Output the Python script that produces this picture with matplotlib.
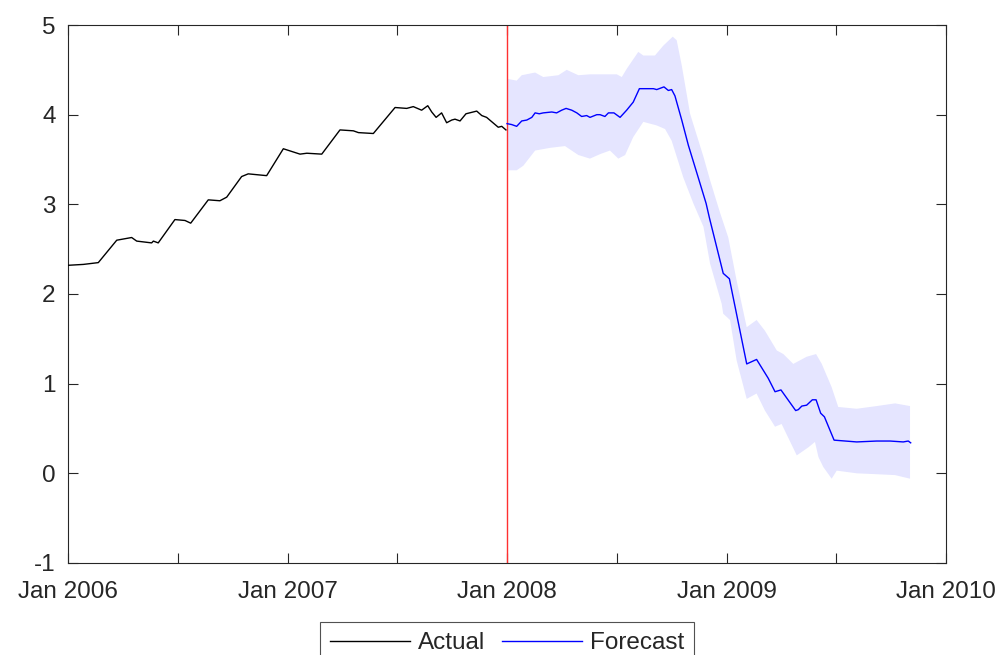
import numpy as np
import matplotlib
matplotlib.use('Agg')
import matplotlib.pyplot as plt

# x values are in years since Jan 2006
actual_t = [0.000, 0.070, 0.138, 0.222, 0.290, 0.313, 0.381, 0.389, 0.411, 0.487,
            0.533, 0.559, 0.639, 0.692, 0.723, 0.791, 0.821, 0.905, 0.981, 1.057,
            1.088, 1.156, 1.239, 1.300, 1.323, 1.391, 1.490, 1.543, 1.573, 1.611,
            1.639, 1.657, 1.677, 1.702, 1.725, 1.748, 1.763, 1.786, 1.813, 1.862,
            1.885, 1.907, 1.960, 1.976, 1.995]
actual_v = [2.32, 2.33, 2.35, 2.60, 2.63, 2.59, 2.57, 2.59, 2.57, 2.83,
            2.82, 2.79, 3.05, 3.04, 3.08, 3.31, 3.34, 3.32, 3.62, 3.56,
            3.57, 3.56, 3.83, 3.82, 3.80, 3.79, 4.08, 4.07, 4.09, 4.05,
            4.10, 4.03, 3.97, 4.02, 3.91, 3.94, 3.95, 3.93, 4.01, 4.04,
            3.99, 3.97, 3.86, 3.87, 3.83]

fc_t = [2.000, 2.021, 2.044, 2.067, 2.090, 2.113, 2.128, 2.147, 2.165, 2.204,
        2.226, 2.249, 2.269, 2.295, 2.318, 2.340, 2.363, 2.378, 2.409, 2.424,
        2.446, 2.462, 2.487, 2.515, 2.545, 2.575, 2.603, 2.667, 2.682, 2.715,
        2.735, 2.750, 2.765, 2.796, 2.826, 2.871, 2.907, 2.922, 2.985, 3.013,
        3.092, 3.137, 3.190, 3.221, 3.248, 3.315, 3.327, 3.343, 3.365, 3.391,
        3.408, 3.429, 3.446, 3.490, 3.593, 3.684, 3.745, 3.805, 3.828, 3.839]
fc_v = [3.90, 3.89, 3.87, 3.93, 3.94, 3.97, 4.02, 4.01, 4.02, 4.03,
        4.02, 4.05, 4.07, 4.05, 4.02, 3.98, 3.99, 3.97, 4.00, 4.00,
        3.98, 4.02, 4.02, 3.97, 4.05, 4.14, 4.29, 4.29, 4.28, 4.31,
        4.27, 4.28, 4.21, 3.94, 3.66, 3.30, 3.01, 2.85, 2.23, 2.17,
        1.22, 1.27, 1.06, 0.91, 0.93, 0.70, 0.71, 0.75, 0.76, 0.82,
        0.82, 0.67, 0.63, 0.37, 0.35, 0.36, 0.36, 0.35, 0.36, 0.34]

upper_t = [2.001, 2.044, 2.067, 2.128, 2.165, 2.234, 2.272, 2.325, 2.378, 2.446,
           2.500, 2.523, 2.545, 2.598, 2.621, 2.674, 2.712, 2.755, 2.773, 2.796,
           2.834, 2.895, 2.925, 2.970, 3.008, 3.046, 3.092, 3.137, 3.175, 3.229,
           3.259, 3.304, 3.365, 3.408, 3.434, 3.479, 3.509, 3.593, 3.684, 3.768,
           3.836]
upper_v = [4.40, 4.38, 4.44, 4.47, 4.42, 4.44, 4.50, 4.44, 4.45, 4.45,
           4.45, 4.42, 4.51, 4.70, 4.66, 4.66, 4.77, 4.87, 4.83, 4.55,
           4.01, 3.53, 3.27, 2.91, 2.63, 2.15, 1.63, 1.71, 1.59, 1.37,
           1.33, 1.22, 1.30, 1.33, 1.22, 0.96, 0.74, 0.72, 0.75, 0.78,
           0.75]

lower_t = [2.001, 2.044, 2.074, 2.128, 2.196, 2.264, 2.325, 2.378, 2.424, 2.469,
           2.507, 2.538, 2.575, 2.621, 2.682, 2.720, 2.750, 2.803, 2.849, 2.895,
           2.925, 2.978, 2.985, 3.016, 3.046, 3.092, 3.137, 3.175, 3.221, 3.251,
           3.320, 3.373, 3.403, 3.419, 3.441, 3.479, 3.502, 3.593, 3.684, 3.768,
           3.836]
lower_v = [3.38, 3.38, 3.43, 3.60, 3.63, 3.65, 3.55, 3.51, 3.56, 3.60,
           3.51, 3.55, 3.75, 3.92, 3.88, 3.84, 3.71, 3.30, 3.01, 2.75,
           2.34, 1.89, 1.78, 1.71, 1.26, 0.83, 0.89, 0.70, 0.52, 0.55,
           0.20, 0.29, 0.35, 0.18, 0.07, -0.06, 0.03, 0.00, -0.01, -0.02,
           -0.06]

start_year = 2006
split_year = 2008
x_ticks = [2006, 2006.5, 2007, 2007.5, 2008, 2008.5, 2009, 2009.5, 2010]
x_labels = ['Jan 2006', '', 'Jan 2007', '', 'Jan 2008', '', 'Jan 2009', '', 'Jan 2010']
y_ticks = [-1, 0, 1, 2, 3, 4, 5]

plt.rcParams['font.family'] = ['Liberation Sans', 'DejaVu Sans']
plt.rcParams['axes.unicode_minus'] = False

fig = plt.figure(figsize=(10.03, 6.55), dpi=100)
ax = fig.add_axes([0.0678, 0.1405, 0.8754, 0.8213])

# confidence band
band_x = np.concatenate([start_year + np.array(upper_t), start_year + np.array(lower_t)[::-1]])
band_y = np.concatenate([upper_v, lower_v[::-1]])
ax.fill(band_x, band_y, color='#e5e5ff', lw=0, zorder=1)

ax.plot(start_year + np.array(actual_t), actual_v, color='black', lw=1.0, label='Actual', zorder=3)
ax.plot(start_year + np.array(fc_t), fc_v, color='blue', lw=1.0, label='Forecast', zorder=3)
ax.axvline(split_year, color='#ff3030', lw=1.0, zorder=2)

ax.set_xlim(2006, 2010)
ax.set_ylim(-1, 5)
ax.set_xticks(x_ticks)
ax.set_xticklabels(x_labels)
ax.set_yticks(y_ticks)
ax.set_yticklabels([str(v) for v in y_ticks])

for s in ax.spines.values():
    s.set_color('#262626')
    s.set_linewidth(0.8)
ax.tick_params(direction='in', length=7, width=0.8, color='#262626',
               top=True, right=True, labelsize=17.5, labelcolor='#262626')
ax.tick_params(axis='x', pad=13)
ax.tick_params(axis='y', pad=9)

leg = fig.legend(loc='upper center', bbox_to_anchor=(0.5055, 1 - 622 / 655), ncol=2,
                 fontsize=17.5, frameon=True, fancybox=False, edgecolor='#262626',
                 handlelength=3.3, handletextpad=0.3, columnspacing=0.7,
                 borderpad=0.42, borderaxespad=0)
leg.get_frame().set_linewidth(0.8)
for t in leg.get_texts():
    t.set_color('#262626')

fig.savefig('out.png', dpi=100)
